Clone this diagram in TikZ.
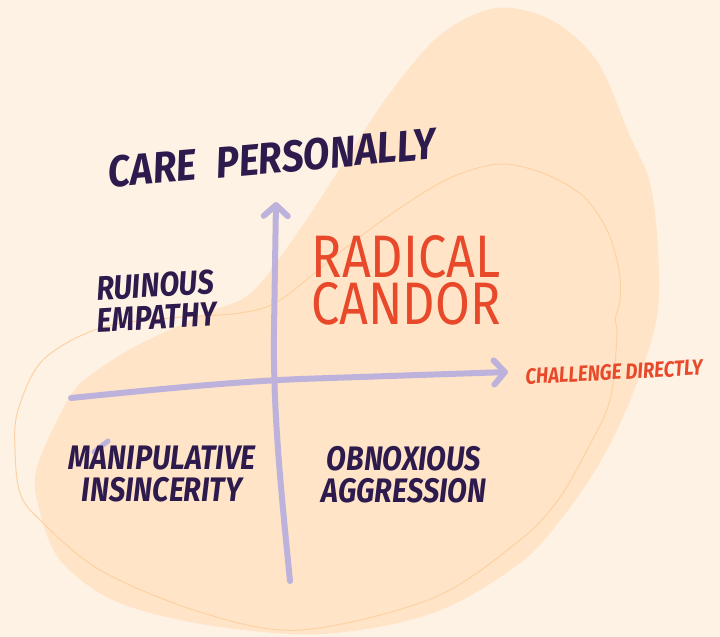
\documentclass[tikz,border=0pt]{standalone}
\usepackage{fontspec}
\setmainfont{Fira Sans}
\newfontfamily\brushfont[FakeStretch=0.85]{Fira Sans}
\newfontfamily\titlefont[FakeStretch=0.88]{Fira Sans}
\newfontfamily\markerfont[FakeStretch=0.84]{Fira Sans}
\usetikzlibrary{arrows.meta}

\definecolor{paper}{HTML}{FEF2E4}
\definecolor{blob}{HTML}{FFE4C7}
\definecolor{blobline}{HTML}{FDD2A2}
\definecolor{axis}{HTML}{BDB2DC}
\definecolor{ink}{HTML}{2D1B4E}
\definecolor{candor}{HTML}{E8492B}

\tikzset{
  axisline/.style={draw=axis, line width=6pt, line cap=round, line join=round,
    -{Straight Barb[length=11pt,width=24pt,round]}},
  quad/.style={text=ink, inner sep=0pt, align=center,
    font=\brushfont\bfseries\itshape\fontsize{34}{32}\selectfont},
}

\begin{document}
\begin{tikzpicture}[x=1pt,y=-1pt]
\useasboundingbox[fill=paper] (0,0) rectangle (720,637);

% the bean behind the grid
\fill[blob] plot[smooth cycle, tension=0.55] coordinates {
  (496,8) (551,20) (597,61) (629,134) (650,183) (658,250) (657,317)
  (637,383) (607,450) (568,510) (520,563) (433,613) (321,634) (207,625)
  (115,601) (60,560) (39,508) (37,467) (69,398) (92,374) (138,345)
  (207,313) (252,292) (298,232) (344,162) (390,93) (440,35)};

% thin loop inside it
\draw[blobline, line width=1pt] plot[smooth cycle, tension=0.55] coordinates {
  (500,164) (545,174) (583,196) (607,230) (619,270) (620,300) (615,320)
  (617,335) (610,400) (587,450) (558,500) (520,540) (433,598) (300,630)
  (200,612) (100,570) (40,520) (20,493) (15,450) (18,410) (43,360)
  (100,328) (170,318) (240,313) (280,300) (340,252) (397,210) (450,178)};

% axes
\coordinate (west) at (71,398);
\coordinate (east) at (508,372);
\coordinate (south) at (290,581);
\coordinate (north) at (276,202);

\draw[axisline] (west) .. controls (150,390) and (230,382) .. (300,379) -- (east);
\draw[axisline] (south) .. controls (280,480) and (273,410) .. (274,330) -- (north);
\draw[axis, line width=5pt, line cap=round] (108,441) -- (94,452);

% labels
\node[quad, rotate=5, font=\titlefont\bfseries\itshape\fontsize{44}{44}\selectfont]
  (care) at (272,158) {CARE\hspace{0.45em}PERSONALLY};
\node[quad, rotate=3] (ruinous) at (156,301) {RUINOUS\\EMPATHY};
\node[quad] (manip) at (162,474) {MANIPULATIVE\\INSINCERITY};
\node[quad] (obnox) at (404,475) {OBNOXIOUS\\AGGRESSION};
\node[text=candor, inner sep=0pt, align=center,
  font=\markerfont\fontsize{60}{47}\selectfont] (radical) at (406,280) {RADICAL\\CANDOR};
\node[text=candor, inner sep=0pt, rotate=3,
  font=\brushfont\bfseries\itshape\fontsize{22}{22}\selectfont]
  (challenge) at (614,372) {CHALLENGE DIRECTLY};

\end{tikzpicture}
\end{document}
